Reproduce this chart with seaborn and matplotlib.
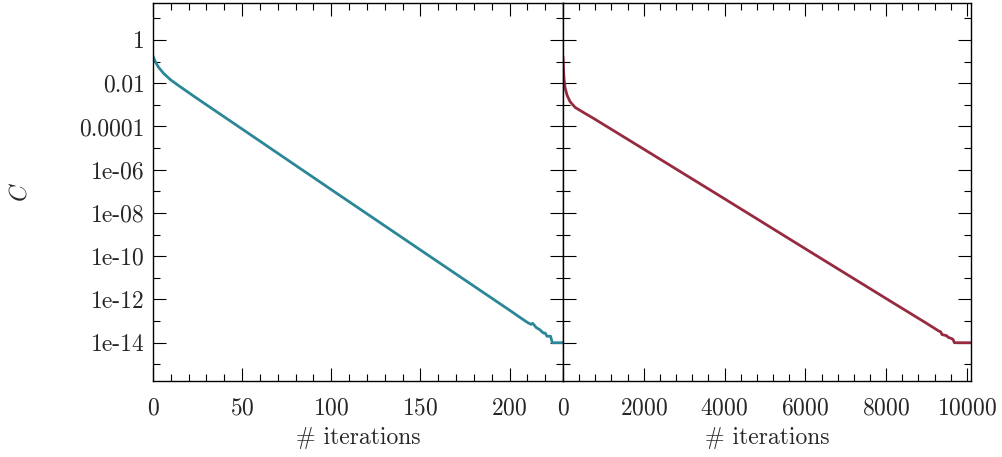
import matplotlib
matplotlib.use("Agg")
import matplotlib.pyplot as plt
import seaborn as sns
import pandas as pd
import numpy as np
from matplotlib.ticker import FixedLocator, NullFormatter, MultipleLocator

# ---- data ----
left_iters = [0, 1, 3, 6, 10, 15, 25, 50, 100, 150, 200, 205, 210, 212, 213,
              215, 217, 219, 220, 221, 223, 224, 230]
left_C = [1.8e-1, 1.1e-1, 5.6e-2, 2.8e-2, 1.4e-2, 7.1e-3, 1.9e-3, 7.6e-5, 1.2e-7,
          1.95e-10, 3.2e-13, 1.66e-13, 8.7e-14, 7.1e-14, 7.9e-14,
          5.0e-14, 4.0e-14, 2.8e-14, 2.8e-14, 2.0e-14, 2.0e-14, 1e-14, 1e-14]

right_iters = [0, 5, 10, 25, 50, 100, 175, 300, 500, 750, 2000, 4000, 6000, 8000,
               9000, 9300, 9350, 9380, 9500, 9530, 9640, 9660, 9690, 10100]
right_C = [1.7e-1, 1.0e-1, 5.0e-2, 1.6e-2, 6.3e-3, 2.8e-3, 1.4e-3, 7.6e-4, 4.5e-4,
           2.4e-4, 8.9e-6, 4.5e-8, 2.2e-10, 1.1e-12, 7.9e-14, 3.5e-14,
           3.2e-14, 2.4e-14, 2.1e-14, 1.8e-14, 1.5e-14, 1.35e-14, 1e-14, 1e-14]

ytick_vals = [1, 1e-2, 1e-4, 1e-6, 1e-8, 1e-10, 1e-12, 1e-14]
ytick_labels = ["1", "0.01", "0.0001", "1e-06", "1e-08", "1e-10", "1e-12", "1e-14"]
yminor_vals = [10, 1e-1, 1e-3, 1e-5, 1e-7, 1e-9, 1e-11, 1e-13, 1e-15]

left_color = "#2b8797"
right_color = "#962a40"

# ---- style ----
sns.set_style("ticks")
plt.rcParams["font.family"] = ["cmr10", "DejaVu Serif"]
plt.rcParams["mathtext.fontset"] = "cm"
plt.rcParams["axes.formatter.use_mathtext"] = True

fig = plt.figure(figsize=(10.03, 4.57), dpi=100)
bottom = 1 - 381 / 457
height = (381 - 3) / 457
ax1 = fig.add_axes([153 / 1003, bottom, (563 - 153) / 1003, height])
ax2 = fig.add_axes([563 / 1003, bottom, (971 - 563) / 1003, height])

df_l = pd.DataFrame({"it": left_iters, "C": left_C})
df_r = pd.DataFrame({"it": right_iters, "C": right_C})
sns.lineplot(data=df_l, x="it", y="C", ax=ax1, color=left_color, lw=2.0,
             estimator=None, sort=False)
sns.lineplot(data=df_r, x="it", y="C", ax=ax2, color=right_color, lw=2.0,
             estimator=None, sort=False)

fs = 17
for ax in (ax1, ax2):
    ax.set_yscale("log")
    ax.set_ylim(1.7e-16, 51)
    ax.yaxis.set_major_locator(FixedLocator(ytick_vals))
    ax.yaxis.set_minor_locator(FixedLocator(yminor_vals))
    ax.yaxis.set_minor_formatter(NullFormatter())
    ax.tick_params(which="both", direction="in", top=True, right=True,
                   bottom=True, left=True, color="black", width=0.8)
    ax.tick_params(which="major", length=9.5, labelsize=fs)
    ax.tick_params(axis="y", which="major", pad=6)
    ax.tick_params(axis="x", which="major", pad=12)
    ax.tick_params(which="minor", length=5)
    for s in ax.spines.values():
        s.set_visible(True)
        s.set_color("black")
        s.set_linewidth(1.0)
    ax.set_xlabel("# iterations", fontsize=fs, labelpad=5)

ax1.set_xlim(0, 230)
ax1.xaxis.set_major_locator(MultipleLocator(50))
ax1.xaxis.set_minor_locator(MultipleLocator(10))
ax1.set_yticklabels(ytick_labels)
ax1.set_ylabel("$C$", fontsize=fs, labelpad=34)

ax2.set_xlim(0, 10100)
ax2.xaxis.set_major_locator(MultipleLocator(2000))
ax2.xaxis.set_minor_locator(MultipleLocator(400))
ax2.set_yticklabels([])
ax2.set_ylabel("")

fig.savefig("out.png", dpi=100)
